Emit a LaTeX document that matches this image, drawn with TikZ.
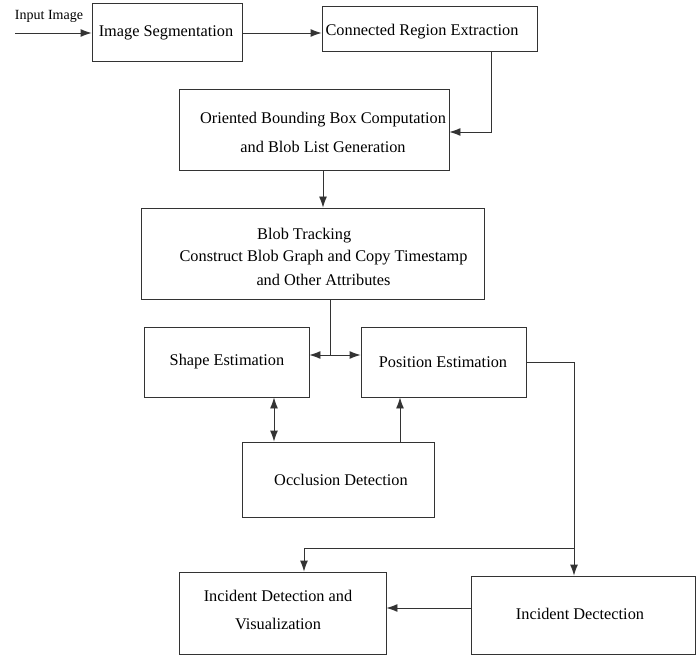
\documentclass[tikz,border=0pt]{standalone}
\usepackage{fontspec}
\setmainfont{Liberation Serif}
\usetikzlibrary{arrows.meta}
\begin{document}
\begin{tikzpicture}[x=1pt,y=-1pt,
  box/.style={draw=black!80,line width=0.9pt,rectangle,inner sep=0pt},
  txt/.style={inner sep=0pt,font=\fontsize{16.3}{20}\selectfont,align=center},
  arr/.style={draw=black!80,line width=0.9pt,-{Latex[length=11pt,width=8pt]}},
  arrtwo/.style={draw=black!80,line width=0.9pt,{Latex[length=11pt,width=8pt]}-{Latex[length=11pt,width=8pt]}},
  ln/.style={draw=black!80,line width=0.9pt}]
\useasboundingbox (0,0) rectangle (699,655);
% boxes
\node[box,minimum width=150pt,minimum height=58pt] (seg) at (167,32) {};
\node[box,minimum width=215pt,minimum height=45pt] (cre) at (429.5,28.5) {};
\node[box,minimum width=270pt,minimum height=81pt] (obb) at (314,129.5) {};
\node[box,minimum width=343pt,minimum height=91pt] (bt) at (312.5,253.5) {};
\node[box,minimum width=165pt,minimum height=70pt] (shape) at (226.5,362) {};
\node[box,minimum width=165pt,minimum height=70pt] (pos) at (443.5,362) {};
\node[box,minimum width=192pt,minimum height=75pt] (occ) at (338,479.5) {};
\node[box,minimum width=207pt,minimum height=82pt] (idv) at (282.5,613) {};
\node[box,minimum width=224pt,minimum height=78pt] (id) at (583,615) {};
% texts
\node[txt,font=\fontsize{14}{16}\selectfont] (tin) at (49,16) {Input Image};
\node[txt] (tseg) at (166,33) {Image Segmentation};
\node[txt] (tcre) at (422,32) {Connected Region Extraction};
\node[txt] (tobb1) at (323,120) {Oriented Bounding Box Computation};
\node[txt] (tobb2) at (323,147) {and Blob List Generation};
\node[txt,anchor=west] (tbt1) at (257,236) {Blob Tracking};
\node[txt] (tbt2) at (323.5,258) {Construct Blob Graph and Copy Timestamp};
\node[txt] (tbt3) at (323.5,280) {and Other Attributes};
\node[txt] (tshape) at (227,362) {Shape Estimation};
\node[txt] (tpos) at (443,362) {Position Estimation};
\node[txt] (tocc) at (341,480) {Occlusion Detection};
\node[txt] (tidv1) at (278,596) {Incident Detection and};
\node[txt] (tidv2) at (278,624) {Visualization};
\node[txt] (tid) at (580,614) {Incident Dectection};
% helper coordinates
\coordinate (cin) at (15,33);
\coordinate (c1) at (491,132);
\coordinate (c2) at (323,0);
\coordinate (c3) at (330,355);
\coordinate (c4) at (574,362);
\coordinate (c5) at (574,548);
\coordinate (c6) at (304,548);
\coordinate (c7) at (274,0);
\coordinate (c8) at (400,0);
\coordinate (c9) at (0,608);
% connectors
\draw[arr] (cin) -- (cin -| seg.west);
\draw[arr] (seg.east |- cin) -- (cin -| cre.west);
\draw[arr] (cre.south -| c1) -- (c1) -- (c1 -| obb.east);
\draw[arr] (obb.south -| c2) -- (bt.north -| c2);
\draw[ln] (bt.south -| c3) -- (c3);
\draw[arr] (c3) -- (c3 -| shape.east);
\draw[arr] (c3) -- (c3 -| pos.west);
\draw[arr] (pos.east) -- (c4) -- (c4 |- id.north);
\draw[arr] (c5) -- (c6) -- (c6 |- idv.north);
\draw[arrtwo] (shape.south -| c7) -- (occ.north -| c7);
\draw[arr] (occ.north -| c8) -- (pos.south -| c8);
\draw[arr] (id.west |- c9) -- (idv.east |- c9);
\end{tikzpicture}
\end{document}
